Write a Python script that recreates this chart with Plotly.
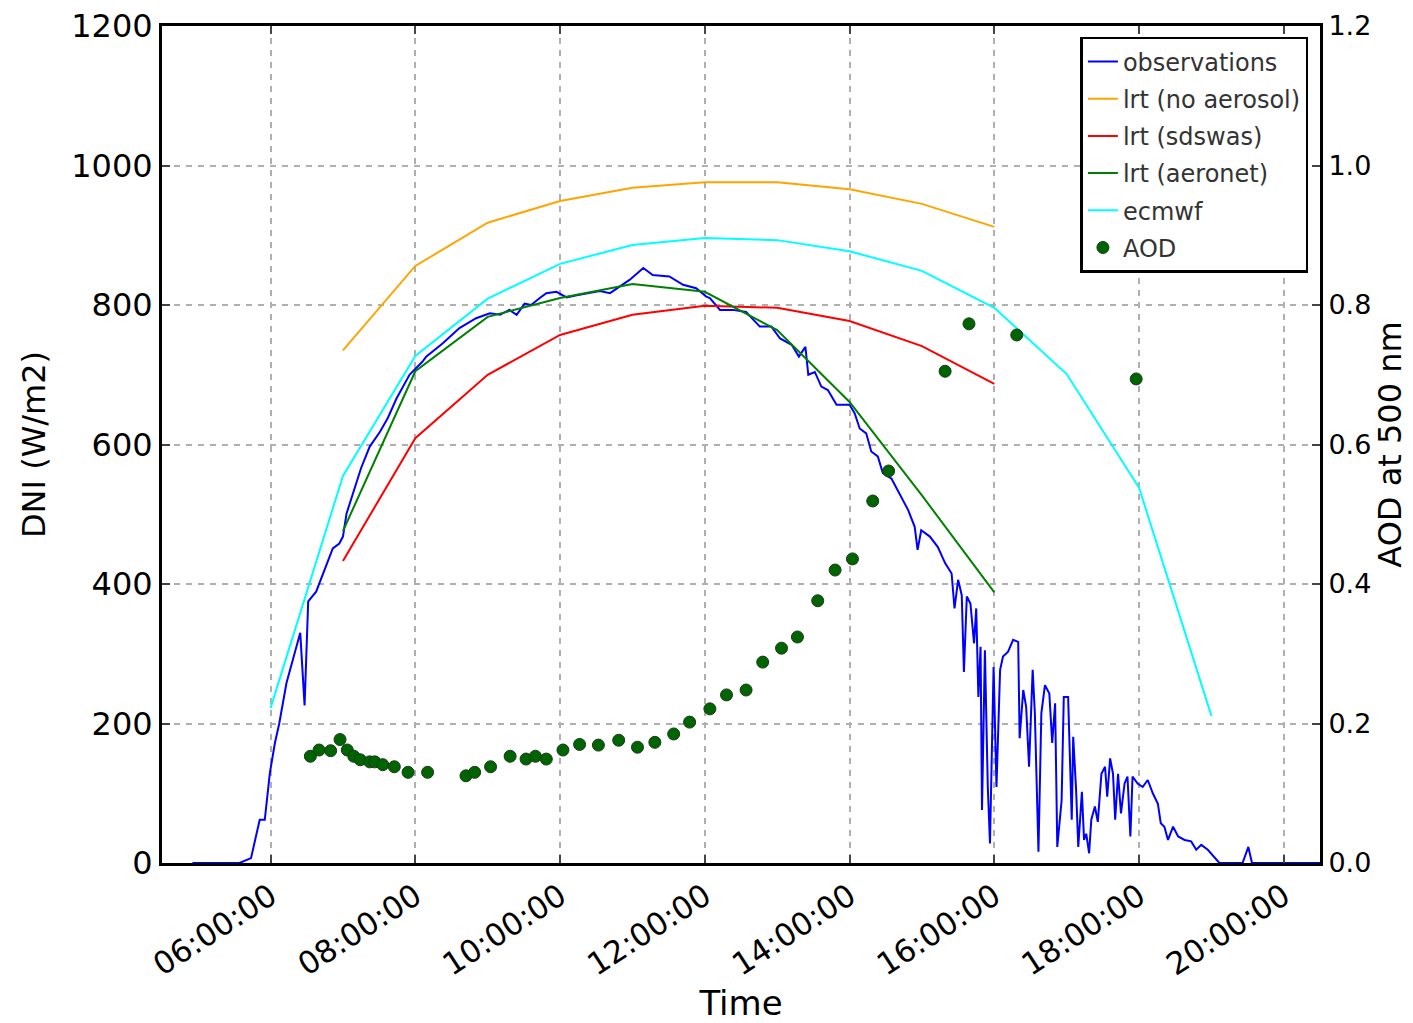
import pandas as pd
import plotly.graph_objects as go

BASE = "2016-08-01"

# ---- observations (decimal hours, DNI W/m2) ----
obs_h = [4.92, 5.57, 5.73, 5.85, 5.92, 5.99, 6.06, 6.12, 6.22, 6.33, 6.41, 6.47, 6.52, 6.63, 6.77, 6.86,
         6.95, 7.00, 7.05, 7.16, 7.25, 7.37, 7.51, 7.62, 7.74, 7.92, 8.10, 8.15, 8.38, 8.61, 8.84, 9.03,
         9.17, 9.30, 9.40, 9.51, 9.60, 9.72, 9.81, 9.95, 10.09, 10.23, 10.41, 10.55, 10.69, 10.82, 10.96,
         11.15, 11.28, 11.51, 11.70, 11.88, 12.02, 12.07, 12.21, 12.39, 12.57, 12.76, 12.92, 13.04, 13.20,
         13.30, 13.39, 13.43, 13.52, 13.61, 13.70, 13.82, 14.00, 14.07, 14.14, 14.23, 14.30, 14.39, 14.46,
         14.58, 14.69, 14.81, 14.90, 14.94, 14.99, 15.11, 15.22, 15.32, 15.41, 15.45, 15.50, 15.55, 15.58,
         15.62, 15.67, 15.72, 15.75, 15.78, 15.81, 15.83, 15.87, 15.91, 15.94, 15.99, 16.03, 16.08, 16.12,
         16.19, 16.26, 16.33, 16.35, 16.40, 16.44, 16.48, 16.53, 16.56, 16.61, 16.65, 16.70, 16.76, 16.80,
         16.84, 16.87, 16.93, 16.96, 17.02, 17.07, 17.09, 17.13, 17.16, 17.21, 17.24, 17.27, 17.31, 17.34,
         17.39, 17.43, 17.48, 17.53, 17.56, 17.60, 17.64, 17.67, 17.71, 17.75, 17.80, 17.84, 17.88, 17.91,
         17.98, 18.05, 18.12, 18.19, 18.26, 18.30, 18.35, 18.40, 18.47, 18.54, 18.63, 18.72, 18.79, 18.86,
         18.95, 19.11, 19.43, 19.51, 19.56, 20.50]
obs_v = [0, 0, 7, 62, 62, 129, 172, 200, 258, 301, 330, 226, 375, 389, 425, 451,
         458, 468, 501, 535, 566, 597, 618, 638, 666, 700, 719, 726, 745, 767, 781, 788,
         786, 793, 786, 802, 800, 810, 817, 819, 811, 814, 817, 820, 817, 826, 836,
         853, 843, 841, 829, 824, 812, 810, 793, 793, 790, 769, 769, 752, 743,
         726, 740, 700, 704, 683, 678, 657, 657, 645, 623, 616, 590, 583, 559,
         551, 530, 506, 482, 449, 477, 468, 453, 430, 415, 365, 406, 384, 274,
         382, 372, 315, 365, 238, 310, 76, 305, 109, 28, 281, 109, 277, 296,
         303, 320, 317, 179, 248, 224, 138, 277, 215, 16, 215, 255, 243, 172,
         229, 23, 90, 238, 238, 62, 181, 105, 23, 102, 33, 42, 14, 62,
         81, 59, 128, 138, 95, 150, 128, 62, 128, 71, 114, 124, 38, 124,
         114, 109, 119, 100, 85, 57, 52, 33, 52, 38, 33, 31, 19, 26,
         19, 0, 0, 23, 0, 0]

# ---- model runs (hourly) ----
mod_h = [7, 8, 9, 10, 11, 12, 13, 14, 15, 16]
lrt_noaer = [735, 856, 918, 949, 968, 976, 976, 966, 945, 912]
lrt_sdswas = [433, 609, 700, 757, 786, 799, 796, 777, 741, 687]
lrt_aeronet = [476, 705, 783, 810, 830, 819, 764, 661, 527, 388]

ecmwf_h = [6, 7, 8, 9, 10, 11, 12, 13, 14, 15, 16, 17, 18, 19]
ecmwf_v = [222, 555, 727, 809, 859, 886, 896, 893, 877, 849, 796, 701, 538, 211]

# ---- AOD at 500 nm ----
aod_h = [6.55, 6.67, 6.83, 6.96, 7.06, 7.15, 7.24, 7.37, 7.44, 7.55, 7.71, 7.90, 8.17, 8.70, 8.82,
         9.04, 9.31, 9.53, 9.66, 9.81, 10.04, 10.27, 10.53, 10.81, 11.07, 11.31, 11.57, 11.79, 12.07,
         12.30, 12.57, 12.80, 13.06, 13.28, 13.56, 13.80, 14.04, 14.32, 14.54, 15.32, 15.65, 16.31, 17.96]
aod_v = [0.153, 0.162, 0.161, 0.177, 0.162, 0.153, 0.148, 0.145, 0.145, 0.141, 0.138, 0.130, 0.130,
         0.125, 0.130, 0.138, 0.153, 0.149, 0.153, 0.149, 0.162, 0.170, 0.169, 0.176, 0.166, 0.173,
         0.185, 0.202, 0.221, 0.241, 0.248, 0.288, 0.308, 0.324, 0.376, 0.420, 0.436, 0.519, 0.562,
         0.705, 0.773, 0.757, 0.694]

dni_ticks = [0, 200, 400, 600, 800, 1000, 1200]
aod_ticks = [0.0, 0.2, 0.4, 0.6, 0.8, 1.0, 1.2]
aod_ticklabels = ["0.0", "0.2", "0.4", "0.6", "0.8", "1.0", "1.2"]


def to_time(hours):
    return pd.Timestamp(BASE) + pd.to_timedelta(hours, unit="h")


FONT = "DejaVu Sans"
fig = go.Figure()

def add_line(h, v, name, color):
    fig.add_trace(go.Scatter(x=to_time(h), y=v, mode="lines", name=name, legendgroup=name,
                             line=dict(color=color, width=2)))

add_line(obs_h, obs_v, "observations", "#0000ff")
add_line(mod_h, lrt_noaer, "lrt (no aerosol)", "#ffa500")
add_line(mod_h, lrt_sdswas, "lrt (sdswas)", "#ff0000")
add_line(mod_h, lrt_aeronet, "lrt (aeronet)", "#008000")
add_line(ecmwf_h, ecmwf_v, "ecmwf", "#00ffff")

fig.add_trace(go.Scatter(x=to_time(aod_h), y=aod_v, mode="markers", name="AOD", legendgroup="AOD",
                         yaxis="y2",
                         marker=dict(color="#006400", size=12, line=dict(color="#1a3a1a", width=1))))

grid = dict(showgrid=True, gridcolor="#b0b0b0", gridwidth=1.5, griddash="6px,6px")

fig.update_layout(
    width=1405, height=1015,
    margin=dict(l=154, r=93, t=18, b=160, autoexpand=False),
    paper_bgcolor="white", plot_bgcolor="white",
    font=dict(family=FONT, color="black"),
    showlegend=True,
    legend=dict(x=0.99, y=0.987, xanchor="right", yanchor="top",
                bgcolor="white", bordercolor="black", borderwidth=2.5,
                font=dict(size=24, family=FONT, color="#333333"), tracegroupgap=3),
    xaxis=dict(type="date", automargin=False, ticklabeloverflow="allow",
               range=[to_time(4.5), to_time(20.5)],
               tick0=to_time(6), dtick=2 * 3600 * 1000, tickformat="%H:%M:%S",
               tickangle=-33, tickfont=dict(size=31, family=FONT),
               ticks="inside", ticklen=8, tickcolor="#444", tickwidth=2,
               showline=True, linecolor="black", linewidth=3, mirror="ticks",
               title=dict(text="Time", font=dict(size=34, family=FONT), standoff=10),
               zeroline=False, **grid),
    yaxis=dict(range=[0, 1200], tickvals=dni_ticks, tickfont=dict(size=32, family=FONT),
               automargin=False, ticklabeloverflow="allow",
               ticks="inside", ticklen=8, tickcolor="#444", tickwidth=2,
               showline=True, linecolor="black", linewidth=3,
               title=dict(text="DNI (W/m2)", font=dict(size=32, family=FONT), standoff=16),
               zeroline=False, **grid),
    yaxis2=dict(range=[0, 1.2], tickvals=aod_ticks, ticktext=aod_ticklabels, overlaying="y", side="right",
                tickfont=dict(size=27, family=FONT), automargin=False, ticklabeloverflow="allow",
                ticks="inside", ticklen=8, tickcolor="#444", tickwidth=2,
                showline=True, linecolor="black", linewidth=3, showgrid=False, zeroline=False,
                title=dict(text="AOD at 500 nm", font=dict(size=32, family=FONT), standoff=8)),
)

fig.write_html("out.html")
